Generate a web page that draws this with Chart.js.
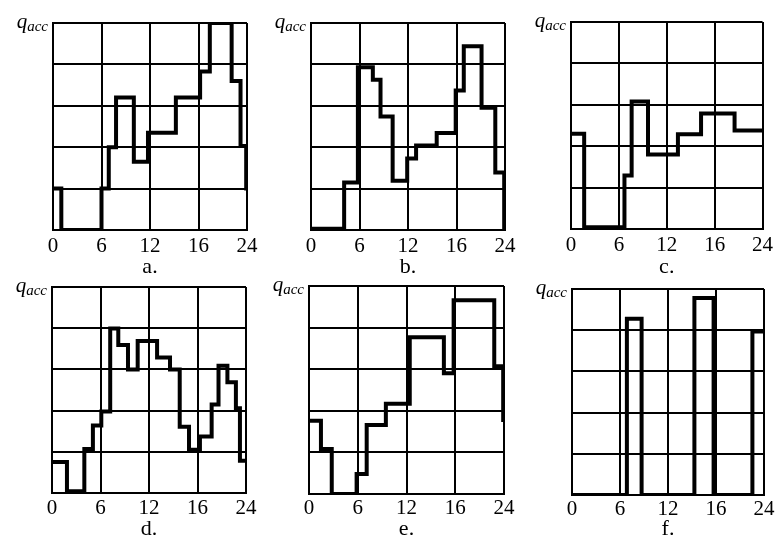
<!DOCTYPE html>
<html><head><meta charset="utf-8">
<script src="https://cdn.jsdelivr.net/npm/chart.js@4/dist/chart.umd.min.js"></script>
<style>
html,body{margin:0;padding:0;background:#fff;width:777px;height:540px;overflow:hidden}
canvas{position:absolute;left:0;top:0}
</style></head><body>
<canvas id="c0" width="777" height="540"></canvas>
<canvas id="c1" width="777" height="540"></canvas>
<canvas id="c2" width="777" height="540"></canvas>
<canvas id="c3" width="777" height="540"></canvas>
<canvas id="c4" width="777" height="540"></canvas>
<canvas id="c5" width="777" height="540"></canvas>
<script>
// ---- data ----
const xTickValues = [0, 6, 12, 18, 24];
const xTickLabels = ['0', '6', '12', '16', '24'];
const yTickValues = [0, 1, 2, 3, 4, 5];
const captions = ['a.', 'b.', 'c.', 'd.', 'e.', 'f.'];
const yLabelMain = 'q';
const yLabelSub = 'acc';

// step start hour and q value held from that hour onward
const hoursA = [0, 1.03, 6, 6.9, 7.8, 10, 11.75, 15.2, 18.2, 19.4, 22.1, 23.2, 23.9, 24];
const qA     = [1, 0, 1, 2, 3.2, 1.65, 2.35, 3.2, 3.83, 5, 3.6, 2.03, 1, 1];

const hoursB = [0, 4.1, 5.8, 7.65, 8.6, 10.1, 11.9, 13.0, 15.55, 17.9, 18.9, 21.1, 22.8, 23.9, 24];
const qB     = [0.03, 1.15, 3.93, 3.63, 2.74, 1.19, 1.73, 2.04, 2.34, 3.37, 4.44, 2.95, 1.39, 0, 0];

const hoursC = [0, 1.65, 6.7, 7.6, 9.65, 13.4, 16.3, 20.5, 24];
const qC     = [2.3, 0.04, 1.29, 3.08, 1.8, 2.29, 2.79, 2.38, 2.38];

const hoursD = [0, 1.85, 4.0, 5.06, 6.1, 7.2, 8.2, 9.4, 10.6, 13.0, 14.6, 15.8, 16.95, 18.3, 19.75, 20.6, 21.7, 22.75, 23.25, 24];
const qD     = [0.75, 0.04, 1.07, 1.64, 1.98, 3.99, 3.59, 3.0, 3.69, 3.29, 3.0, 1.61, 1.05, 1.37, 2.15, 3.09, 2.69, 2.06, 0.78, 0.78];

const hoursE = [0, 1.47, 2.8, 5.86, 7.1, 9.46, 12.4, 16.6, 17.8, 22.8, 23.9, 24];
const qE     = [1.76, 1.08, 0, 0.48, 1.66, 2.17, 3.77, 2.9, 4.66, 3.07, 1.78, 1.78];

const hoursF = [0, 6.86, 8.7, 15.3, 17.7, 22.55, 24];
const qF     = [0, 4.28, 0, 4.78, 0, 3.97, 3.97];

const seriesHours = [hoursA, hoursB, hoursC, hoursD, hoursE, hoursF];
const seriesQ = [qA, qB, qC, qD, qE, qF];

// ---- layout (plot box: left, top, right, bottom; caption middle; tick padding) ----
const panels = [
  {l: 53,  t: 23,  r: 247, b: 230, cap: 267,   tp: 4},
  {l: 311, t: 23,  r: 505, b: 230, cap: 267,   tp: 4},
  {l: 571, t: 22,  r: 765, b: 229, cap: 267,   tp: 4},
  {l: 52,  t: 287, r: 246, b: 493, cap: 529.5, tp: 3},
  {l: 309, t: 286, r: 504, b: 494, cap: 529.5, tp: 2},
  {l: 572, t: 289, r: 764, b: 495, cap: 529.5, tp: 2}
];

const serif = '"Liberation Serif", "Times New Roman", serif';

const qLabelPlugin = {
  id: 'qacc',
  afterDraw(chart) {
    const {ctx, chartArea} = chart;
    ctx.save();
    ctx.fillStyle = '#000';
    ctx.textBaseline = 'alphabetic';
    ctx.textAlign = 'left';
    ctx.font = 'italic 15px ' + serif;
    const subW = ctx.measureText(yLabelSub).width;
    const subX = chartArea.left - 5 - subW;
    ctx.fillText(yLabelSub, subX, chartArea.top + 7.5);
    ctx.font = 'italic 21px ' + serif;
    const qW = ctx.measureText(yLabelMain).width;
    ctx.fillText(yLabelMain, subX - qW, chartArea.top + 5);
    ctx.restore();
  }
};

panels.forEach((p, i) => {
  const capLH = 22;
  const H = p.cap - p.b + capLH / 2;
  const pts = seriesHours[i].map((h, k) => ({x: h, y: seriesQ[i][k]}));
  new Chart(document.getElementById('c' + i), {
    type: 'line',
    data: {datasets: [{
      data: pts,
      borderColor: '#000',
      borderWidth: 4,
      stepped: 'before',
      pointRadius: 0,
      fill: false,
      tension: 0,
      borderJoinStyle: 'miter',
      borderCapStyle: 'butt'
    }]},
    options: {
      responsive: false,
      animation: false,
      devicePixelRatio: 1,
      layout: {padding: {left: p.l, top: p.t, right: 777 - p.r, bottom: 540 - p.b - H}},
      plugins: {legend: {display: false}, tooltip: {enabled: false}},
      scales: {
        x: {
          type: 'linear', min: 0, max: 24,
          afterBuildTicks: s => { s.ticks = xTickValues.map(v => ({value: v})); },
          afterFit: s => { s.height = H; },
          grid: {color: '#000', lineWidth: 2, drawTicks: false},
          border: {display: true, color: '#000', width: 2},
          ticks: {
            color: '#000', padding: p.tp, maxRotation: 0, autoSkip: false,
            font: {family: serif, size: 21},
            callback: (v, idx) => xTickLabels[idx]
          },
          title: {display: true, text: captions[i], color: '#000',
                  font: {family: serif, size: 22, lineHeight: 1}, padding: 0}
        },
        y: {
          min: 0, max: 5,
          afterBuildTicks: s => { s.ticks = yTickValues.map(v => ({value: v})); },
          afterFit: s => { s.width = 0; },
          grid: {color: '#000', lineWidth: 2, drawTicks: false},
          border: {display: true, color: '#000', width: 2},
          ticks: {display: false}
        }
      }
    },
    plugins: [qLabelPlugin]
  });
});
</script>
</body></html>
